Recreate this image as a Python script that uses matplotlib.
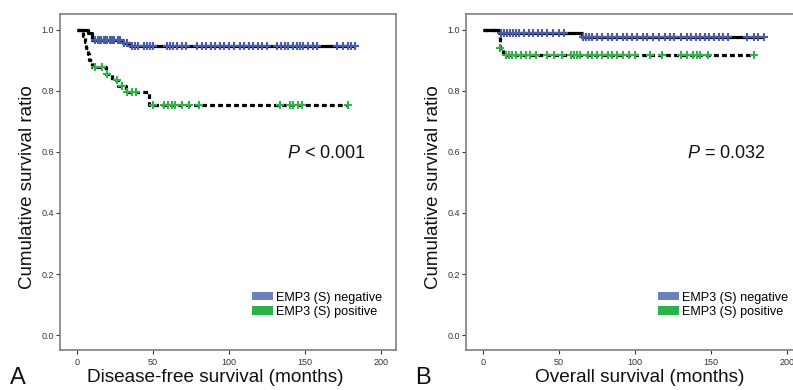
import numpy as np
import matplotlib
matplotlib.use("Agg")
import matplotlib.pyplot as plt
from matplotlib.patches import Patch

plt.rcParams['font.family'] = ['Liberation Sans', 'DejaVu Sans']
plt.rcParams['mathtext.fontset'] = 'custom'
plt.rcParams['mathtext.it'] = 'Liberation Sans:italic'
plt.rcParams['mathtext.rm'] = 'Liberation Sans'

# ---- data (months, survival ratio) ----
negA_t = [0, 7, 10, 30, 35]
negA_s = [1.0, 0.99, 0.966, 0.956, 0.946]
negA_end = 183
posA_t = [0, 4, 5, 6, 7, 8, 10, 19, 23, 27, 32, 47.5]
posA_s = [1.0, 0.98, 0.96, 0.94, 0.92, 0.90, 0.877, 0.857, 0.836, 0.816, 0.796, 0.755]
posA_end = 178
negA_cens = [12, 13.5, 15, 16, 17.5, 19, 20, 21.5, 23, 24.5, 27, 28.5, 31, 33, 36, 38, 40,
             44, 46, 48, 50, 59, 61, 63, 66, 69, 72, 79, 82, 85, 88, 91, 94, 97, 100, 103,
             107, 110, 113, 116, 119, 122, 125, 131.5, 134, 137, 139, 142, 145, 147, 149,
             152, 155, 158, 171, 175, 178, 180, 183]
posA_cens = [12, 16.5, 19.7, 26, 29.6, 33, 36, 39, 50, 57, 60, 62.5, 64.5, 69, 74, 80,
             133.5, 140, 142, 145.5, 148, 178]

negB_t = [0, 10.5, 65]
negB_s = [1.0, 0.989, 0.975]
negB_end = 185
posB_t = [0, 11, 13]
posB_s = [1.0, 0.94, 0.919]
posB_end = 178
negB_cens = [12, 14, 16, 18, 20, 22, 24, 27, 30, 33, 36, 39, 42, 46, 50, 53, 66, 68, 70, 72,
             75, 78, 82, 85, 88, 92, 95, 98, 101, 105, 108, 112, 116, 120, 123, 126, 130,
             134, 137, 140, 143, 146, 149, 152, 155, 158, 161, 174, 178, 181, 185]
posB_cens = [11.5, 15, 17, 19, 22, 25, 28, 31, 35, 42, 47, 52, 58, 60, 62, 64, 69, 72, 75,
             78, 82, 85, 88, 92, 96, 100, 110, 118, 130, 134, 138, 141, 143, 148, 178]

legend_labels = ['EMP3 (S) negative', 'EMP3 (S) positive']
yticks = [0.0, 0.2, 0.4, 0.6, 0.8, 1.0]
xticks = [0, 50, 100, 150, 200]

BLUE = '#4a5ba8'
GREEN = '#2fb34a'
LEG_BLUE = '#6d80bf'
LEG_GREEN = '#2bb24a'
SPINE = '#7f7f7f'

W, H = 793, 390
fig = plt.figure(figsize=(W / 100, H / 100), dpi=100)


def px_axes(l, t, r, b):
    return fig.add_axes([l / W, 1 - b / H, (r - l) / W, (b - t) / H])


def step_value(ts, ss, x):
    i = np.searchsorted(np.asarray(ts), x, side='right') - 1
    return np.asarray(ss)[i]


def draw_curve(ax, ts, ss, end, cens, color, dashed):
    xs = list(ts) + [end]
    ys = list(ss) + [ss[-1]]
    kw = dict(color='black', lw=2.3, where='post', zorder=3, solid_capstyle='butt')
    if dashed:
        ax.step(xs, ys, linestyle=(0, (1.5, 1.0)), dash_capstyle='butt', **kw)
    else:
        ax.step(xs, ys, **kw)
    cy = [step_value(ts, ss, c) for c in cens]
    ax.plot(cens, cy, linestyle='none', marker='+', ms=5.5, mew=1.5, color=color, zorder=4)


def style(ax, xlabel, ptext, px, xlab_x):
    ax.set_xlim(-11.2, 209.9)
    ax.set_ylim(-0.049, 1.052)
    ax.set_xticks(xticks)
    ax.set_xticklabels([str(v) for v in xticks])
    ax.set_yticks(yticks)
    ax.set_yticklabels([f'{v:.1f}' for v in yticks])
    ax.tick_params(axis='both', labelsize=6.5, length=3, width=0.8, colors='#333333',
                   direction='out', pad=1.5)
    ax.tick_params(axis='x', pad=3)
    for s in ax.spines.values():
        s.set_color(SPINE)
        s.set_linewidth(1.2)
    ax.set_ylabel('Cumulative survival ratio', fontsize=13.5, color='#111111')
    ax.yaxis.set_label_coords(-0.07, 0.484)
    ax.set_xlabel(xlabel, fontsize=13.7, color='#111111')
    ax.xaxis.set_label_coords(xlab_x, -0.058)
    ax.text(px, 0.586, ptext, transform=ax.transAxes, fontsize=13, ha='left',
            va='center', color='#111111')
    handles = [Patch(facecolor=LEG_BLUE, edgecolor='none'),
               Patch(facecolor=LEG_GREEN, edgecolor='none')]
    ax.legend(handles, legend_labels, loc='lower right', bbox_to_anchor=(0.96, 0.095),
              frameon=False, fontsize=9.1, handlelength=1.65, handleheight=0.65,
              handletextpad=0.3, labelspacing=0.2, borderaxespad=0, borderpad=0)


axA = px_axes(60, 14, 396, 350)
draw_curve(axA, posA_t, posA_s, posA_end, posA_cens, GREEN, True)
draw_curve(axA, negA_t, negA_s, negA_end, negA_cens, BLUE, False)
style(axA, 'Disease-free survival (months)', r'$\it{P}$ < 0.001', 0.676, 0.461)

axB = px_axes(466, 14, 802, 350)
draw_curve(axB, posB_t, posB_s, posB_end, posB_cens, GREEN, True)
draw_curve(axB, negB_t, negB_s, negB_end, negB_cens, BLUE, False)
style(axB, 'Overall survival (months)', r'$\it{P}$ = 0.032', 0.658, 0.518)

fig.text(10 / W, 1 - 389 / H, 'A', fontsize=17, ha='left', va='bottom', color='#111111')
fig.text(415 / W, 1 - 389 / H, 'B', fontsize=17, ha='left', va='bottom', color='#111111')

fig.savefig('out.png', dpi=100)
